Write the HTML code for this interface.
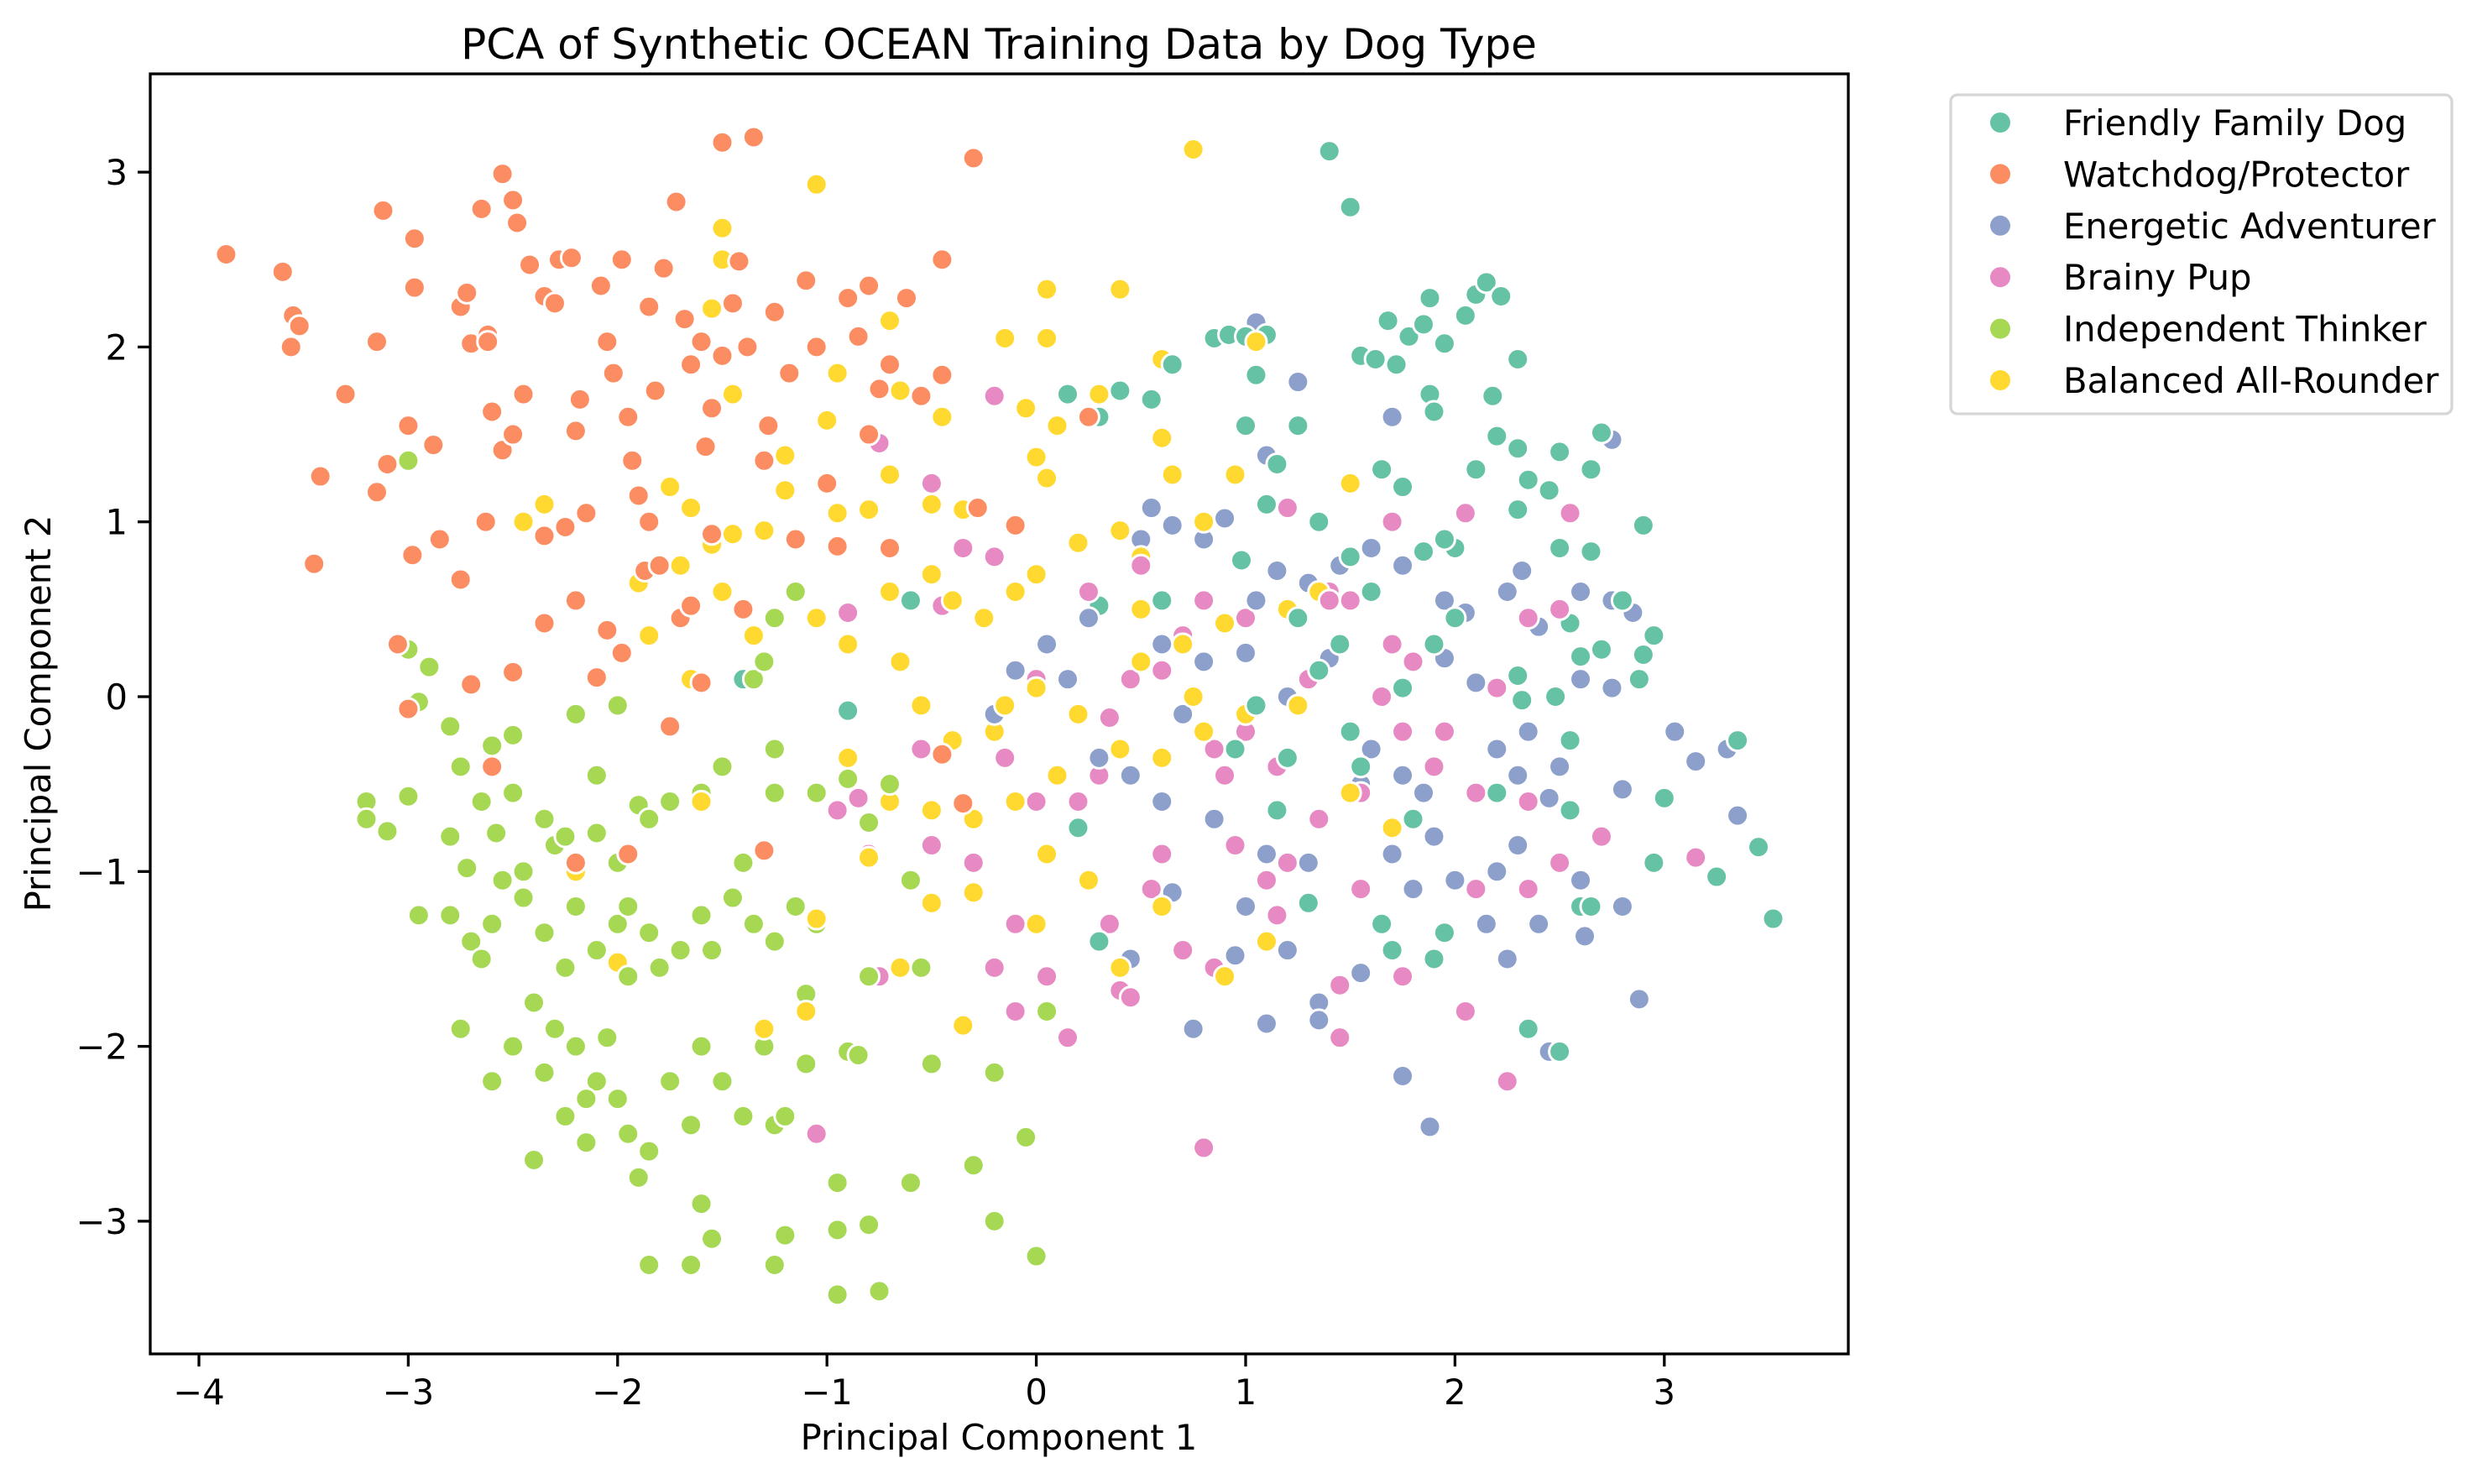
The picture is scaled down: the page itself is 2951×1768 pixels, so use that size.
<!DOCTYPE html>
<html><head><meta charset="utf-8"><style>
html,body{margin:0;padding:0;background:#fff;}
svg{display:block;font-family:"DejaVu Sans","Liberation Sans",sans-serif;}
</style></head><body>
<svg id="chart" width="2951" height="1768" viewBox="0 0 2951 1768" xmlns="http://www.w3.org/2000/svg">
<rect width="2951" height="1768" fill="#fff"/>
<text x="1190" y="70" font-size="50" text-anchor="middle">PCA of Synthetic OCEAN Training Data by Dog Type</text>
<g id="points"></g>
<rect x="179" y="88" width="2023" height="1525" fill="none" stroke="#000" stroke-width="3.3"/>
<g id="xticks"></g>
<g id="yticks"></g>
<text x="1190" y="1727" font-size="41.7" text-anchor="middle">Principal Component 1</text>
<text transform="translate(60,850) rotate(-90)" font-size="41.7" text-anchor="middle">Principal Component 2</text>
<g id="legend"></g>
</svg>
<script>
const xTickValues = [-4,-3,-2,-1,0,1,2,3];
const yTickValues = [-3,-2,-1,0,1,2,3];
const seriesNames = ["Friendly Family Dog","Watchdog/Protector","Energetic Adventurer","Brainy Pup","Independent Thinker","Balanced All-Rounder"];
const seriesColors = ["#66c2a5","#fc8d62","#8da0cb","#e78ac3","#a6d854","#ffd92f"];

const friendlyPoints = [[1.4,3.12],[1.5,2.8],[0.85,2.05],[0.92,2.07],[1.0,2.06],[1.1,2.07],[1.05,1.84],[1.55,1.95],[1.62,1.93],[1.68,2.15],[1.72,1.9],[1.78,2.06],[1.85,2.13],[1.88,2.28],[1.95,2.02],[2.05,2.18],[2.1,2.3],[2.15,2.37],[2.22,2.29],[2.3,1.93],[1.88,1.73],[1.9,1.63],[2.18,1.72],[2.2,1.49],[2.3,1.42],[2.5,1.4],[2.65,1.3],[2.7,1.51],[2.35,1.24],[2.45,1.18],[2.3,1.07],[2.5,0.85],[2.65,0.83],[2.8,0.55],[2.9,0.98],[2.95,0.35],[2.9,0.24],[2.88,0.1],[2.7,0.27],[2.6,0.23],[2.55,0.42],[2.48,0.0],[2.55,-0.25],[2.32,-0.02],[2.3,0.12],[2.0,0.45],[1.9,0.3],[1.6,0.6],[1.5,0.8],[1.35,1.0],[1.25,1.55],[1.15,1.33],[1.1,1.1],[1.0,1.55],[0.98,0.78],[1.65,1.3],[1.75,1.2],[1.85,0.83],[2.0,0.85],[2.1,1.3],[1.95,0.9],[0.3,1.6],[0.15,1.73],[0.4,1.75],[0.55,1.7],[0.65,1.9],[0.6,0.55],[0.3,0.52],[3.0,-0.58],[2.95,-0.95],[3.25,-1.03],[3.45,-0.86],[3.52,-1.27],[3.35,-0.25],[2.55,-0.65],[2.6,-1.2],[2.65,-1.2],[2.35,-1.9],[2.5,-2.03],[1.9,-1.5],[1.95,-1.35],[1.7,-1.45],[1.65,-1.3],[1.3,-1.18],[1.15,-0.65],[1.05,-0.05],[0.95,-0.3],[1.5,-0.2],[1.75,0.05],[1.55,-0.4],[1.35,0.15],[0.2,-0.75],[0.3,-1.4],[-0.9,-0.08],[-1.4,0.1],[-0.6,0.55],[1.25,0.45],[1.45,0.3],[2.2,-0.55],[1.8,-0.7],[1.2,-0.35]];

const watchdogPoints = [[-3.87,2.53],[-3.6,2.43],[-3.55,2.18],[-3.52,2.12],[-3.56,2.0],[-3.42,1.26],[-3.45,0.76],[-3.3,1.73],[-3.12,2.78],[-3.15,2.03],[-3.15,1.17],[-3.1,1.33],[-3.0,1.55],[-2.98,0.81],[-2.97,2.62],[-2.97,2.34],[-2.88,1.44],[-2.75,2.23],[-2.72,2.31],[-2.7,2.02],[-2.65,2.79],[-2.62,2.07],[-2.62,2.03],[-2.6,1.63],[-2.55,1.41],[-2.63,1.0],[-2.55,2.99],[-2.5,2.84],[-2.48,2.71],[-2.45,1.73],[-2.42,2.47],[-2.35,2.29],[-2.3,2.25],[-2.28,2.5],[-2.22,2.51],[-2.18,1.7],[-2.15,1.05],[-2.2,1.52],[-2.08,2.35],[-2.05,2.03],[-2.02,1.85],[-1.98,2.5],[-1.95,1.6],[-1.93,1.35],[-1.9,1.15],[-1.87,0.72],[-1.85,2.23],[-1.82,1.75],[-1.78,2.45],[-1.72,2.83],[-1.68,2.16],[-1.65,1.9],[-1.6,2.03],[-1.58,1.43],[-1.55,1.65],[-1.5,1.95],[-1.45,2.25],[-1.42,2.49],[-1.38,2.0],[-1.35,3.2],[-1.5,3.17],[-1.28,1.55],[-1.25,2.2],[-1.18,1.85],[-1.1,2.38],[-1.05,2.0],[-1.0,1.22],[-0.9,2.28],[-0.85,2.06],[-0.8,2.35],[-0.75,1.76],[-0.7,1.9],[-0.62,2.28],[-0.55,1.72],[-0.45,2.5],[-0.45,1.84],[-0.3,3.08],[-0.28,1.08],[-0.1,0.98],[0.25,1.6],[-2.85,0.9],[-2.75,0.67],[-2.7,0.07],[-3.0,-0.07],[-3.05,0.3],[-2.5,0.14],[-2.35,0.42],[-2.25,0.97],[-2.2,0.55],[-2.1,0.11],[-1.95,-0.9],[-1.75,-0.17],[-1.7,0.45],[-1.6,0.08],[-1.55,0.93],[-1.4,0.5],[-1.3,-0.88],[-1.15,0.9],[-0.95,0.86],[-0.7,0.85],[-0.45,-0.33],[-0.35,-0.61],[-2.6,-0.4],[-2.2,-0.95],[-2.5,1.5],[-2.35,0.92],[-1.8,0.75],[-1.65,0.52],[-1.85,1.0],[-2.05,0.38],[-1.98,0.25],[-1.3,1.35],[-0.8,1.5]];

const energeticPoints = [[1.05,2.14],[1.25,1.8],[1.7,1.6],[2.75,1.47],[1.1,1.38],[0.5,0.9],[0.55,1.08],[0.65,0.98],[0.8,0.9],[0.9,1.02],[1.15,0.72],[1.3,0.65],[1.45,0.75],[1.6,0.85],[1.75,0.75],[1.95,0.55],[2.05,0.48],[2.25,0.6],[2.32,0.72],[2.4,0.4],[2.6,0.6],[2.75,0.55],[2.85,0.48],[1.95,0.22],[2.1,0.08],[2.2,-0.3],[2.3,-0.45],[2.5,-0.4],[2.45,-0.58],[2.3,-0.85],[2.2,-1.0],[2.0,-1.05],[1.9,-0.8],[1.85,-0.55],[1.75,-0.45],[1.6,-0.3],[1.55,-0.5],[1.7,-0.9],[1.8,-1.1],[2.15,-1.3],[2.25,-1.5],[2.4,-1.3],[2.6,-1.05],[2.62,-1.37],[2.8,-1.2],[2.8,-0.53],[2.88,-1.73],[3.15,-0.37],[3.05,-0.2],[3.35,-0.68],[3.3,-0.3],[2.45,-2.03],[1.88,-2.46],[1.75,-2.17],[1.55,-1.58],[1.35,-1.75],[1.35,-1.85],[1.1,-1.87],[0.75,-1.9],[0.95,-1.48],[1.0,-1.2],[1.2,-1.45],[1.3,-0.95],[1.1,-0.9],[0.85,-0.7],[0.6,-0.6],[0.45,-0.45],[0.3,-0.35],[0.15,0.1],[0.05,0.3],[-0.1,0.15],[-0.2,-0.1],[0.25,0.45],[0.6,0.3],[0.8,0.2],[1.0,0.25],[1.2,0.0],[1.4,0.22],[0.7,-0.1],[1.05,0.55],[0.45,-1.5],[0.65,-1.12],[2.6,0.1],[2.75,0.05],[2.35,-0.2]];

const brainyPoints = [[-0.2,1.72],[-0.5,1.22],[-0.75,1.45],[-0.35,0.85],[-0.2,0.8],[-0.45,0.52],[-0.9,0.48],[-0.85,-0.58],[-0.8,-0.9],[-0.95,-0.65],[-0.5,-0.85],[-0.3,-0.95],[-0.1,-1.3],[-0.2,-1.55],[-0.1,-1.8],[0.05,-1.6],[0.15,-1.95],[0.4,-1.68],[0.45,-1.72],[0.55,-1.1],[0.7,-1.45],[0.85,-1.55],[0.8,-2.58],[1.15,-1.25],[1.2,-0.95],[1.35,-0.7],[1.45,-1.65],[1.45,-1.95],[1.55,-1.1],[1.75,-1.6],[1.9,-1.5],[2.05,-1.8],[2.1,-1.1],[2.25,-2.2],[2.35,-1.1],[2.5,-0.95],[2.7,-0.8],[3.15,-0.92],[2.35,-0.6],[2.1,-0.55],[1.9,-0.4],[1.75,-0.2],[1.65,0.0],[1.7,0.3],[1.5,0.55],[1.4,0.6],[1.25,0.45],[1.0,0.45],[0.8,0.55],[0.7,0.35],[0.6,0.15],[0.45,0.1],[0.35,-0.12],[0.3,-0.45],[0.2,-0.6],[0.0,-0.6],[-0.15,-0.35],[0.0,0.1],[1.0,-0.2],[1.15,-0.4],[0.9,-0.45],[0.6,-0.9],[0.95,-0.85],[1.1,-1.05],[2.5,0.5],[2.35,0.45],[2.05,1.05],[2.55,1.05],[1.7,1.0],[1.4,0.55],[1.2,1.08],[0.85,-0.3],[1.8,0.2],[1.95,-0.2],[2.2,0.05],[-1.05,-2.5],[-0.75,-1.6],[-0.55,-0.3],[0.25,0.6],[0.35,-1.3],[1.3,0.1],[0.5,0.75],[1.55,-0.55]];

const independentPoints = [[-3.0,1.35],[-3.0,0.27],[-2.9,0.17],[-2.95,-0.03],[-2.8,-0.17],[-2.75,-0.4],[-2.6,-0.28],[-2.5,-0.22],[-2.65,-0.6],[-3.2,-0.6],[-3.2,-0.7],[-3.1,-0.77],[-3.0,-0.57],[-2.8,-0.8],[-2.72,-0.98],[-2.58,-0.78],[-2.5,-0.55],[-2.45,-1.0],[-2.35,-0.7],[-2.3,-0.85],[-2.25,-0.8],[-2.1,-0.78],[-2.0,-0.95],[-1.9,-0.62],[-1.85,-0.7],[-1.75,-0.6],[-2.2,-0.1],[-2.1,-0.45],[-2.0,-0.05],[-1.6,-0.55],[-1.5,-0.4],[-2.95,-1.25],[-2.8,-1.25],[-2.7,-1.4],[-2.6,-1.3],[-2.55,-1.05],[-2.45,-1.15],[-2.35,-1.35],[-2.25,-1.55],[-2.2,-1.2],[-2.1,-1.45],[-2.0,-1.3],[-1.95,-1.2],[-1.85,-1.35],[-1.8,-1.55],[-1.7,-1.45],[-1.6,-1.25],[-1.55,-1.45],[-1.45,-1.15],[-1.35,-1.3],[-1.25,-1.4],[-1.15,-1.2],[-1.05,-1.3],[-2.75,-1.9],[-2.6,-2.2],[-2.5,-2.0],[-2.4,-1.75],[-2.35,-2.15],[-2.25,-2.4],[-2.15,-2.55],[-2.1,-2.2],[-2.05,-1.95],[-2.0,-2.3],[-1.95,-2.5],[-1.9,-2.75],[-1.85,-2.6],[-1.75,-2.2],[-1.65,-2.45],[-1.6,-2.9],[-1.6,-2.0],[-1.55,-3.1],[-1.5,-2.2],[-1.4,-2.4],[-1.3,-2.0],[-1.25,-2.45],[-1.2,-2.4],[-1.1,-2.1],[-1.1,-1.7],[-1.85,-3.25],[-1.65,-3.25],[-1.25,-3.25],[-1.2,-3.08],[-0.95,-3.42],[-0.75,-3.4],[-0.8,-3.02],[-0.95,-3.05],[-0.95,-2.78],[-0.6,-2.78],[-0.3,-2.68],[-0.2,-3.0],[0.0,-3.2],[-0.05,-2.52],[-0.2,-2.15],[-0.5,-2.1],[-0.9,-2.03],[-0.85,-2.05],[-0.8,-1.6],[-0.55,-1.55],[-0.6,-1.05],[-0.8,-0.72],[-0.7,-0.5],[-0.9,-0.47],[-1.05,-0.55],[-1.25,-0.55],[-1.25,-0.3],[-1.35,0.1],[-1.3,0.2],[-1.25,0.45],[-1.15,0.6],[-1.4,-0.95],[0.05,-1.8],[-2.65,-1.5],[-2.4,-2.65],[-2.15,-2.3],[-1.95,-1.6],[-2.3,-1.9],[-2.2,-2.0]];

const balancedPoints = [[0.75,3.13],[-1.5,2.68],[-1.5,2.5],[-1.05,2.93],[0.05,2.33],[0.4,2.33],[-0.15,2.05],[0.05,2.05],[0.6,1.93],[1.05,2.03],[-0.95,1.85],[-1.45,1.73],[-1.55,2.22],[-0.7,2.15],[-0.65,1.75],[-0.45,1.6],[0.3,1.73],[-0.05,1.65],[0.1,1.55],[0.0,1.37],[0.05,1.25],[0.6,1.48],[0.65,1.27],[0.95,1.27],[1.5,1.22],[-0.7,1.27],[-0.5,1.1],[-0.35,1.07],[-0.8,1.07],[-0.95,1.05],[-1.0,1.58],[-1.2,1.38],[-1.2,1.18],[-1.3,0.95],[-1.45,0.93],[-1.55,0.87],[-1.5,0.6],[-1.35,0.35],[-1.7,0.75],[-1.9,0.65],[-2.05,0.38],[-2.45,1.0],[-2.35,1.1],[-1.75,1.2],[-1.65,1.08],[-1.85,0.35],[-1.65,0.1],[-1.05,0.45],[-0.9,0.3],[-0.7,0.6],[-0.5,0.7],[-0.4,0.55],[-0.25,0.45],[-0.1,0.6],[0.0,0.7],[0.2,0.88],[0.4,0.95],[0.5,0.8],[0.8,1.0],[0.25,0.6],[0.5,0.5],[0.7,0.3],[0.9,0.42],[1.0,0.25],[1.2,0.5],[1.35,0.6],[-0.65,0.2],[-0.55,-0.05],[-0.4,-0.25],[-0.2,-0.2],[0.0,0.05],[0.2,-0.1],[0.4,-0.3],[0.6,-0.35],[0.8,-0.2],[1.0,-0.1],[1.25,-0.05],[-0.9,-0.35],[-0.7,-0.6],[-0.5,-0.65],[-0.3,-0.7],[-0.1,-0.6],[0.05,-0.9],[0.25,-1.05],[0.4,-1.55],[0.6,-1.2],[0.9,-1.6],[1.1,-1.4],[-0.3,-1.12],[-0.5,-1.18],[-0.8,-0.92],[-0.65,-1.55],[-0.35,-1.88],[0.0,-1.3],[-1.1,-1.8],[-1.3,-1.9],[-2.2,-1.0],[-2.0,-1.52],[-1.6,-0.6],[-1.05,-1.27],[1.5,-0.55],[1.7,-0.75],[0.1,-0.45],[-0.15,-0.05],[0.5,0.2],[0.75,0.0]];

const allSeries = [friendlyPoints, watchdogPoints, energeticPoints, brainyPoints, independentPoints, balancedPoints];
const seriesKeys = ["friendly","watchdog","energetic","brainy","independent","balanced"];

const NS = "http://www.w3.org/2000/svg";
const X0 = 1234.6, XU = 249.4, Y0 = 830, YU = 208.3;
function xScale(v){ return X0 + v*XU; }
function yScale(v){ return Y0 - v*YU; }
function mk(tag, attrs){ const e = document.createElementNS(NS, tag); for (const k in attrs) e.setAttribute(k, attrs[k]); return e; }

// points, interleaved like a single seaborn scatter
const pg = document.getElementById('points');
const maxLen = Math.max(...allSeries.map(s => s.length));
for (let i = 0; i < maxLen; i++) {
  for (let s = 0; s < allSeries.length; s++) {
    const p = allSeries[s][i];
    if (!p) continue;
    const c = mk('circle', {cx: xScale(p[0]), cy: yScale(p[1]), r: 12.5, fill: seriesColors[s], stroke: '#fff', 'stroke-width': 3});
    
    
    pg.appendChild(c);
  }
}

// x ticks
const xg = document.getElementById('xticks');
xTickValues.forEach(v => {
  const x = xScale(v);
  const t = mk('line', {x1: x, x2: x, y1: 1613, y2: 1628, stroke: '#000', 'stroke-width': 3.3});
  
  
  xg.appendChild(t);
  const l = mk('text', {x: x, y: 1673, 'font-size': 41.7, 'text-anchor': 'middle'});
  l.textContent = (v < 0 ? '\u2212' + Math.abs(v) : String(v));
  
  
  xg.appendChild(l);
});

// y ticks
const yg = document.getElementById('yticks');
yTickValues.forEach(v => {
  const y = yScale(v);
  const t = mk('line', {x1: 164, x2: 179, y1: y, y2: y, stroke: '#000', 'stroke-width': 3.3});
  
  
  yg.appendChild(t);
  const l = mk('text', {x: 152, y: y + 15, 'font-size': 41.7, 'text-anchor': 'end'});
  l.textContent = (v < 0 ? '\u2212' + Math.abs(v) : String(v));
  
  
  yg.appendChild(l);
});

// legend
const lg = document.getElementById('legend');
const box = mk('rect', {x: 2324, y: 113, width: 597, height: 380, rx: 8, fill: '#fff', stroke: '#d6d6d6', 'stroke-width': 3.3});


lg.appendChild(box);
seriesNames.forEach((n, i) => {
  const y = 146 + i * 61.4;
  const c = mk('circle', {cx: 2383, cy: y, r: 12, fill: seriesColors[i]});
  
  
  lg.appendChild(c);
  const t = mk('text', {x: 2458, y: y + 15, 'font-size': 41.7});
  t.textContent = n;
  
  
  lg.appendChild(t);
});
</script>
</body></html>
